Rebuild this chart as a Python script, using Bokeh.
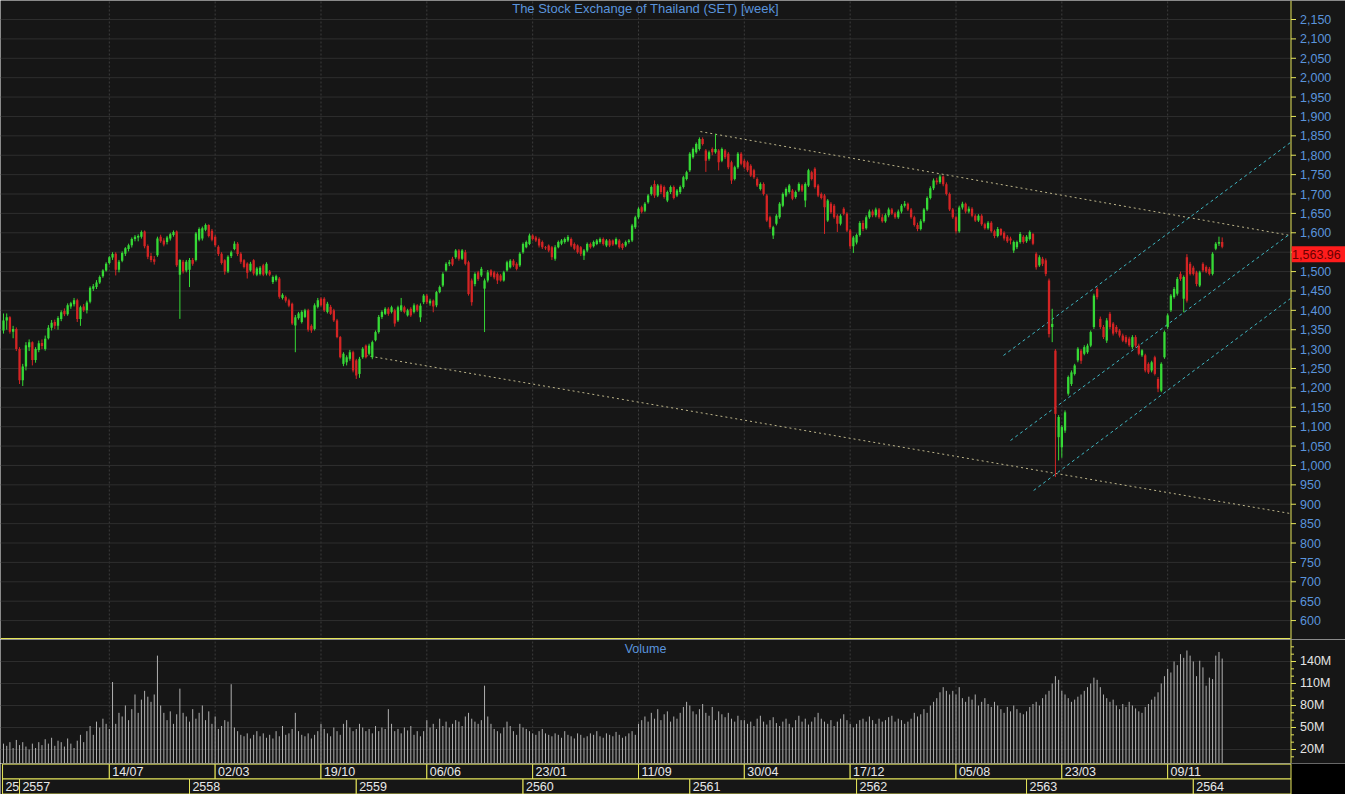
from bokeh.plotting import figure
from bokeh.models import Range1d, Label
from bokeh.layouts import column
from bokeh.embed import file_html
from bokeh.resources import INLINE
from bokeh.core.properties import value

# ---------------- data (weekly, week index 0 = 25/11/2013) ----------------
open_ = [
 1348,1374,1382,1345,1352,1300,1220,1255,1305,1318,
 1272,1298,1316,1300,1328,1355,1370,1360,1378,1398,
 1390,1410,1416,1426,1378,1410,1400,1422,1456,1460,
 1472,1488,1503,1522,1536,1546,1505,1528,1546,1558,
 1568,1584,1588,1590,1603,1566,1540,1532,1542,1590,
 1580,1576,1585,1594,1603,1492,1525,1503,1505,1530,
 1530,1582,1585,1608,1620,1605,1590,1564,1546,1529,
 1500,1540,1558,1572,1546,1529,1521,1503,1529,1492,
 1494,1516,1495,1500,1473,1478,1482,1432,1434,1426,
 1417,1361,1380,1370,1383,1400,1360,1352,1409,1430,
 1430,1396,1409,1400,1374,1331,1262,1266,1275,1292,
 1271,1236,1279,1309,1288,1279,1323,1344,1383,1391,
 1404,1396,1400,1374,1400,1408,1387,1404,1396,1413,
 1382,1421,1438,1418,1425,1413,1447,1464,1503,1520,
 1533,1537,1554,1533,1550,1524,1477,1468,1498,1490,
 1456,1477,1503,1498,1494,1490,1477,1503,1511,1528,
 1520,1516,1550,1563,1571,1593,1588,1584,1576,1563,
 1567,1563,1533,1563,1572,1576,1580,1584,1571,1567,
 1563,1541,1554,1571,1565,1571,1576,1584,1567,1580,
 1580,1571,1580,1571,1567,1576,1580,1614,1640,1666,
 1657,1679,1700,1726,1696,1722,1718,1683,1705,1718,
 1696,1705,1718,1739,1761,1795,1808,1816,1842,1812,
 1791,1816,1808,1812,1786,1812,1804,1782,1739,1769,
 1804,1786,1782,1773,1761,1739,1713,1726,1696,1640,
 1593,1623,1640,1670,1696,1705,1709,1692,1709,1722,
 1683,1722,1756,1765,1722,1700,1696,1632,1675,1670,
 1644,1623,1662,1649,1606,1565,1575,1594,1625,1612,
 1640,1655,1645,1660,1640,1630,1645,1660,1650,1640,
 1655,1670,1675,1660,1640,1620,1610,1630,1660,1690,
 1715,1735,1730,1745,1725,1700,1660,1640,1604,1665,
 1675,1655,1662,1644,1632,1644,1622,1612,1626,1604,
 1592,1610,1600,1590,1585,1554,1563,1576,1590,1578,
 1584,1597,1546,1516,1533,1529,1477,1357,1296,1073,
 1047,1090,1185,1210,1236,1271,1296,1288,1292,1309,
 1357,1455,1378,1357,1322,1391,1366,1357,1348,1335,
 1331,1327,1305,1331,1309,1284,1284,1262,1245,1279,
 1223,1193,1279,1357,1400,1434,1443,1494,1430,1537,
 1520,1510,1498,1464,1520,1512,1507,1494,1559,1572,1576]
high = [
 1392,1392,1385,1360,1356,1305,1262,1318,1325,1320,
 1305,1322,1325,1335,1362,1375,1376,1385,1400,1405,
 1418,1422,1432,1430,1412,1416,1425,1462,1468,1478,
 1490,1506,1524,1540,1550,1550,1530,1552,1563,1572,
 1588,1594,1596,1606,1606,1570,1548,1540,1590,1595,
 1586,1592,1600,1606,1606,1532,1530,1530,1535,1535,
 1602,1614,1616,1624,1622,1610,1594,1568,1550,1532,
 1542,1554,1578,1576,1550,1532,1524,1525,1532,1512,
 1514,1520,1524,1504,1490,1492,1486,1444,1438,1430,
 1420,1388,1396,1400,1404,1404,1364,1418,1432,1434,
 1434,1422,1414,1404,1378,1334,1292,1284,1298,1296,
 1275,1280,1305,1312,1314,1322,1348,1388,1400,1408,
 1408,1412,1404,1412,1432,1412,1404,1408,1418,1416,
 1418,1442,1442,1430,1428,1450,1464,1498,1524,1530,
 1538,1558,1558,1558,1556,1528,1482,1498,1502,1512,
 1482,1504,1506,1502,1498,1494,1502,1528,1532,1532,
 1524,1550,1575,1580,1598,1596,1592,1588,1580,1566,
 1570,1566,1568,1580,1584,1588,1594,1588,1575,1570,
 1566,1558,1575,1575,1580,1584,1588,1588,1584,1584,
 1583,1588,1584,1574,1580,1584,1623,1644,1666,1670,
 1679,1700,1722,1735,1726,1726,1722,1709,1722,1722,
 1713,1722,1747,1760,1808,1820,1833,1846,1846,1816,
 1812,1820,1855,1816,1820,1816,1808,1786,1773,1808,
 1808,1790,1786,1777,1765,1743,1730,1730,1700,1644,
 1618,1648,1679,1704,1717,1726,1713,1709,1730,1726,
 1730,1765,1760,1769,1726,1704,1700,1687,1679,1674,
 1648,1648,1666,1653,1610,1592,1598,1630,1632,1645,
 1660,1660,1665,1664,1648,1650,1665,1664,1654,1660,
 1674,1682,1678,1664,1644,1626,1635,1664,1694,1720,
 1740,1742,1750,1748,1730,1704,1664,1644,1670,1680,
 1678,1668,1666,1648,1648,1648,1626,1630,1630,1608,
 1615,1612,1604,1594,1590,1580,1580,1602,1594,1594,
 1606,1600,1550,1542,1538,1534,1482,1404,1300,1130,
 1104,1142,1232,1245,1262,1305,1300,1310,1314,1348,
 1443,1460,1384,1362,1380,1396,1370,1362,1352,1340,
 1336,1332,1336,1336,1314,1300,1288,1266,1270,1283,
 1228,1266,1348,1392,1442,1460,1486,1500,1490,1545,
 1525,1515,1502,1502,1524,1516,1512,1550,1576,1590,1588]
low = [
 1340,1350,1340,1328,1295,1210,1205,1245,1295,1258,
 1265,1292,1300,1296,1325,1348,1352,1350,1372,1385,
 1386,1404,1410,1370,1360,1396,1392,1418,1450,1455,
 1468,1484,1500,1518,1530,1490,1498,1524,1540,1552,
 1562,1578,1578,1585,1560,1532,1524,1518,1538,1574,
 1565,1570,1580,1590,1512,1378,1495,1498,1460,1515,
 1526,1578,1580,1604,1588,1578,1564,1540,1518,1492,
 1496,1535,1555,1540,1520,1508,1482,1500,1490,1488,
 1490,1488,1490,1488,1468,1474,1430,1428,1420,1408,
 1362,1292,1376,1366,1380,1345,1342,1348,1405,1410,
 1396,1392,1388,1370,1328,1276,1256,1258,1270,1240,
 1223,1226,1275,1276,1284,1274,1320,1340,1378,1388,
 1386,1392,1358,1370,1396,1392,1384,1383,1392,1396,
 1370,1416,1416,1412,1395,1408,1444,1460,1500,1514,
 1514,1533,1528,1530,1516,1438,1412,1462,1476,1486,
 1344,1472,1486,1480,1468,1474,1474,1500,1508,1512,
 1503,1512,1546,1560,1568,1580,1576,1562,1558,1556,
 1550,1530,1528,1560,1568,1572,1576,1563,1555,1546,
 1540,1530,1550,1559,1562,1568,1572,1567,1563,1563,
 1566,1568,1559,1556,1563,1572,1576,1610,1636,1650,
 1653,1675,1696,1690,1692,1700,1688,1679,1700,1686,
 1692,1700,1714,1735,1757,1791,1804,1812,1825,1757,
 1786,1800,1804,1761,1782,1790,1764,1726,1735,1765,
 1774,1765,1757,1744,1739,1718,1709,1696,1628,1610,
 1584,1619,1636,1666,1692,1701,1684,1688,1705,1705,
 1666,1718,1735,1714,1692,1686,1597,1628,1649,1636,
 1602,1619,1645,1602,1558,1548,1570,1590,1604,1608,
 1636,1640,1640,1636,1626,1626,1640,1646,1636,1636,
 1650,1665,1656,1636,1616,1604,1606,1626,1656,1686,
 1710,1724,1726,1720,1696,1656,1636,1598,1600,1660,
 1650,1650,1640,1628,1628,1618,1608,1608,1600,1586,
 1588,1592,1580,1574,1570,1548,1558,1572,1572,1574,
 1580,1568,1505,1512,1514,1488,1330,1318,970,1013,
 1020,1084,1180,1205,1232,1266,1262,1284,1288,1305,
 1352,1428,1352,1326,1316,1352,1335,1340,1330,1318,
 1314,1306,1300,1304,1284,1280,1240,1236,1240,1232,
 1189,1189,1275,1352,1396,1430,1438,1476,1395,1420,
 1490,1490,1462,1460,1498,1496,1490,1490,1555,1566,1560]
close = [
 1374,1382,1345,1352,1300,1220,1255,1310,1318,1272,
 1300,1315,1308,1327,1355,1368,1360,1380,1395,1390,
 1413,1418,1426,1378,1408,1400,1420,1458,1462,1472,
 1486,1503,1520,1537,1545,1505,1525,1548,1560,1568,
 1584,1590,1592,1602,1565,1538,1530,1525,1585,1578,
 1570,1588,1596,1602,1516,1530,1500,1525,1530,1520,
 1598,1610,1612,1620,1592,1582,1568,1545,1522,1500,
 1538,1550,1572,1545,1525,1512,1497,1520,1495,1508,
 1510,1492,1520,1492,1486,1488,1435,1440,1425,1412,
 1366,1382,1392,1396,1400,1350,1348,1413,1426,1413,
 1400,1417,1391,1374,1331,1279,1288,1279,1292,1245,
 1232,1275,1301,1279,1309,1318,1344,1383,1396,1404,
 1391,1408,1366,1408,1413,1396,1400,1387,1413,1400,
 1412,1438,1421,1425,1410,1447,1460,1494,1520,1524,
 1518,1554,1533,1554,1520,1442,1421,1494,1481,1507,
 1477,1498,1490,1485,1477,1477,1498,1524,1528,1516,
 1507,1546,1571,1576,1593,1584,1580,1567,1563,1560,
 1554,1537,1563,1576,1580,1584,1589,1567,1559,1550,
 1546,1554,1571,1563,1576,1580,1584,1571,1580,1567,
 1570,1584,1563,1561,1576,1580,1619,1640,1662,1654,
 1675,1696,1718,1696,1722,1705,1692,1705,1718,1690,
 1709,1718,1743,1756,1804,1816,1829,1842,1829,1786,
 1808,1808,1816,1782,1816,1795,1769,1735,1769,1804,
 1778,1769,1761,1748,1743,1722,1726,1700,1632,1614,
 1614,1644,1675,1700,1713,1722,1688,1705,1726,1709,
 1726,1761,1739,1718,1696,1690,1666,1683,1653,1640,
 1623,1644,1649,1606,1565,1588,1594,1625,1610,1640,
 1655,1645,1660,1640,1630,1645,1660,1650,1640,1655,
 1670,1675,1660,1640,1620,1610,1630,1660,1690,1715,
 1735,1730,1745,1725,1700,1660,1640,1604,1665,1675,
 1655,1662,1644,1632,1644,1622,1612,1626,1604,1592,
 1610,1595,1585,1578,1580,1576,1576,1597,1576,1590,
 1602,1572,1511,1537,1520,1494,1339,1365,1133,1125,
 1099,1137,1228,1240,1258,1301,1270,1305,1309,1344,
 1438,1434,1357,1331,1374,1357,1340,1344,1335,1322,
 1318,1310,1331,1309,1288,1297,1245,1240,1266,1236,
 1198,1262,1344,1387,1438,1455,1481,1481,1486,1425,
 1494,1494,1468,1498,1503,1500,1494,1546,1572,1576,1563.96]
# volume in millions of shares
volume = [
 28,25,30,22,33,26,30,24,20,28,
 22,30,26,34,28,36,25,32,30,24,
 35,28,22,32,40,30,45,52,40,58,
 50,62,55,48,112,55,70,65,80,60,
 75,95,70,88,100,92,85,95,148,80,
 70,60,72,55,68,103,70,65,58,75,
 62,70,80,60,72,55,65,48,52,60,
 58,109,50,45,40,38,42,35,40,45,
 38,42,36,40,35,45,38,52,40,42,
 48,70,45,40,38,42,35,40,45,55,
 48,42,38,50,45,40,55,60,50,45,
 48,55,50,45,48,42,52,45,50,48,
 75,55,45,48,42,50,46,52,40,45,
 38,45,60,50,55,48,62,52,58,50,
 55,60,58,52,65,70,62,58,55,60,
 107,65,55,48,45,42,50,58,52,45,
 40,55,50,48,45,42,40,45,48,42,
 40,38,42,40,36,45,40,38,35,42,
 40,36,38,42,40,45,38,36,42,40,
 38,44,40,36,38,42,45,40,55,60,
 65,58,70,62,75,60,68,72,58,65,
 62,70,78,85,80,72,68,75,82,70,
 66,78,60,72,68,64,70,62,58,66,
 60,60,55,58,52,62,66,58,54,60,
 64,56,52,58,62,55,50,60,66,58,
 62,54,58,64,70,62,58,55,60,52,
 58,62,68,60,55,50,55,60,62,58,
 65,60,55,62,58,60,64,66,58,62,
 60,55,58,62,70,65,68,75,70,80,
 85,90,98,105,100,95,100,95,105,90,
 85,92,88,95,80,85,90,82,78,85,
 80,75,70,78,72,80,75,70,68,72,
 78,82,85,80,90,95,100,110,120,115,
 100,95,90,85,88,92,95,100,105,110,
 118,115,105,95,90,85,88,80,75,82,
 78,85,80,76,72,70,78,82,88,92,
 98,110,120,130,125,140,135,150,145,155,
 148,140,120,141,132,107,118,116,148,153,144]

price_ticks = list(range(600, 2151, 50))
volume_ticks = [20, 50, 80, 110, 140]
volume_minor_ticks = list(range(0, 171, 10))
volume_tick_labels = ["20M", "50M", "80M", "110M", "140M"]
date_label_weeks = [33, 66, 99, 132, 165, 198, 231, 264, 297, 330, 363]
date_labels = ["14/07", "02/03", "19/10", "06/06", "23/01", "11/09",
               "30/04", "17/12", "05/08", "23/03", "09/11"]
year_start_weeks = [0, 5, 58, 110, 162, 214, 266, 319, 371]
year_labels = ["2556", "2557", "2558", "2559", "2560", "2561", "2562", "2563", "2564"]

# trend lines (week, price)
resist_x = [217.3, 401.3]; resist_y = [1861, 1593]
support_x = [112.9, 401.3]; support_y = [1283.6, 876]
chan_up_x = [311.8, 401.3]; chan_up_y = [1283.6, 1832.8]
chan_mid_x = [314.0, 401.3]; chan_mid_y = [1064.4, 1598]
chan_low_x = [321.2, 401.3]; chan_low_y = [935.5, 1430.6]
last_price = close[-1]

# ---------------- styling ----------------
BG = "#161616"
GRID = "#2e2e2e"
VGRID = "#3c3c3c"
YEL = "#e6e65a"
BLUE = "#5a94dc"
GREEN = "#36d936"
RED = "#d42424"
FONT = "Liberation Sans"
W = 1345
RB = 55                      # width of the right axis band, px
X0, X1 = -0.935, 401.3       # week range of the chart area (1290 px)
PXW = (W - RB) / (X1 - X0)   # px per week
XF = X0 + W / PXW            # every frame spans the full width
AX = X1 + 0.5 / PXW          # axis line position
P_LO, P_HI = 551.2, 2199.0
PXP = (P_HI - P_LO) / 639.0  # price units per px
V_LO, V_HI = 0.9, 170.0
PXV = (V_HI - V_LO) / 124.0

n = min(len(open_), len(high), len(low), len(close), len(volume))
weeks = list(range(n))
o = open_[:n]; h = high[:n]; l = low[:n]; c = close[:n]
cols = [GREEN if c[i] >= o[i] else RED for i in range(n)]
tops = [max(o[i], c[i]) for i in range(n)]
bots = [min(o[i], c[i]) for i in range(n)]

xr = Range1d(X0, XF)

def panel(height, yr, border="#161616"):
    f = figure(width=W, height=height, x_range=xr, y_range=yr,
               output_backend="svg", toolbar_location=None,
               x_axis_location=None, y_axis_location=None,
               min_border_left=0, min_border_right=0, min_border_top=0, min_border_bottom=0,
               background_fill_color=BG, border_fill_color=border, outline_line_color=None)
    f.xgrid.visible = False
    f.ygrid.visible = False
    return f

def right_axis(f, lo, hi, ticks, labels, color, minor=None):
    k = len(ticks)
    f.segment(x0=[X0] * k, y0=ticks, x1=[X1] * k, y1=ticks, line_color=GRID, line_width=1)
    f.segment(x0=[AX], y0=[lo], x1=[AX], y1=[hi], line_color=YEL, line_width=1)
    if minor:
        f.segment(x0=[AX] * len(minor), y0=minor, x1=[AX + 3 / PXW] * len(minor), y1=minor,
                  line_color=YEL, line_width=1)
    f.segment(x0=[AX] * k, y0=ticks, x1=[AX + 5 / PXW] * k, y1=ticks, line_color=YEL, line_width=1)
    f.text(x=[X1 + 9.5 / PXW] * k, y=ticks, text=labels, text_align="left",
           text_baseline="middle", text_color=color,
           text_font=value(FONT), text_font_size="12.5px")

# ---------------- price panel ----------------
p = panel(639, Range1d(P_LO, P_HI))
p.segment(x0=date_label_weeks, y0=[P_LO] * len(date_label_weeks),
          x1=date_label_weeks, y1=[P_HI] * len(date_label_weeks),
          line_color=VGRID, line_dash="2 2", line_width=1)
right_axis(p, P_LO, P_HI, price_ticks, ["{:,}".format(t) for t in price_ticks], BLUE)

p.line(resist_x, resist_y, line_color="#bdb58a", line_dash="2 3", line_width=1)
p.line(support_x, support_y, line_color="#bdb58a", line_dash="2 3", line_width=1)
for xs, ys in ((chan_up_x, chan_up_y), (chan_mid_x, chan_mid_y), (chan_low_x, chan_low_y)):
    p.line(xs, ys, line_color="#3fb8c4", line_dash="3 3", line_width=1)

p.segment(x0=weeks, y0=l, x1=weeks, y1=h, line_color=cols, line_width=1)
p.vbar(x=weeks, width=0.72, top=tops, bottom=bots, fill_color=cols, line_color=None)

# last price marker on the axis
p.quad(left=[X1 + 1.2 / PXW], right=[XF], top=[last_price + 0.5 * PXP],
       bottom=[last_price - 15.5 * PXP], fill_color="#ff1c1c", line_color=None)
p.text(x=[X1 + 1.6 / PXW], y=[last_price - 7.5 * PXP], text=["{:,.2f}".format(last_price)],
       text_align="left", text_baseline="middle", text_color="#6a0000",
       text_font=value(FONT), text_font_size="12.5px")
# separator to the volume panel
p.segment(x0=[X0], y0=[P_LO + 0.6 * PXP], x1=[X1], y1=[P_LO + 0.6 * PXP],
          line_color=YEL, line_width=2)
p.add_layout(Label(x=X0 + 645 / PXW, y=2178, text="The Stock Exchange of Thailand (SET) [week]",
                   text_align="center", text_baseline="middle", text_color=BLUE,
                   text_font=FONT, text_font_size="13px"))

# ---------------- volume panel ----------------
pv = panel(124, Range1d(V_LO, V_HI))
pv.segment(x0=date_label_weeks, y0=[V_LO] * len(date_label_weeks),
           x1=date_label_weeks, y1=[V_HI] * len(date_label_weeks),
           line_color=VGRID, line_dash="2 2", line_width=1)
right_axis(pv, V_LO, V_HI, volume_ticks, volume_tick_labels, "#e4e4e4",
           minor=[m for m in volume_minor_ticks if V_LO < m < V_HI - 3])
pv.segment(x0=weeks, y0=[0] * n, x1=weeks, y1=volume[:n], line_color="#b0b0b0", line_width=1)
pv.add_layout(Label(x=X0 + 645 / PXW, y=V_HI - 12.3, text="Volume", text_align="center",
                    text_baseline="middle", text_color=BLUE, text_font=FONT,
                    text_font_size="12.5px"))

# ---------------- date rows ----------------
pd_ = panel(31, Range1d(0, 2))
pd_.quad(left=[X1 + 0.5 / PXW], right=[XF], bottom=[0], top=[2], fill_color="#000000", line_color=None)
row1 = [-0.3] + date_label_weeks + [AX]
pd_.quad(left=row1[:-1], right=row1[1:], bottom=[1.0] * (len(row1) - 1), top=[1.96] * (len(row1) - 1),
         fill_color=BG, line_color=YEL, line_width=1)
pd_.text(x=[w + 0.9 for w in date_label_weeks], y=[1.47] * len(date_label_weeks), text=date_labels,
         text_baseline="middle", text_align="left", text_color="#e8e8e8",
         text_font=value(FONT), text_font_size="12.5px")

row2 = [-0.3] + year_start_weeks[1:] + [AX]
for i in range(len(year_labels)):
    pd_.quad(left=[row2[i]], right=[row2[i + 1]], bottom=[0.03], top=[1.0],
             fill_color=BG, line_color=YEL, line_width=1)
    pd_.text(x=[row2[i] + 0.9], y=[0.5], text=[year_labels[i]],
             text_baseline="middle", text_align="left", text_color="#e8e8e8",
             text_font=value(FONT), text_font_size="12.5px")

layout = column(p, pv, pd_, spacing=0)
open("out.html", "w").write(file_html(layout, INLINE))
